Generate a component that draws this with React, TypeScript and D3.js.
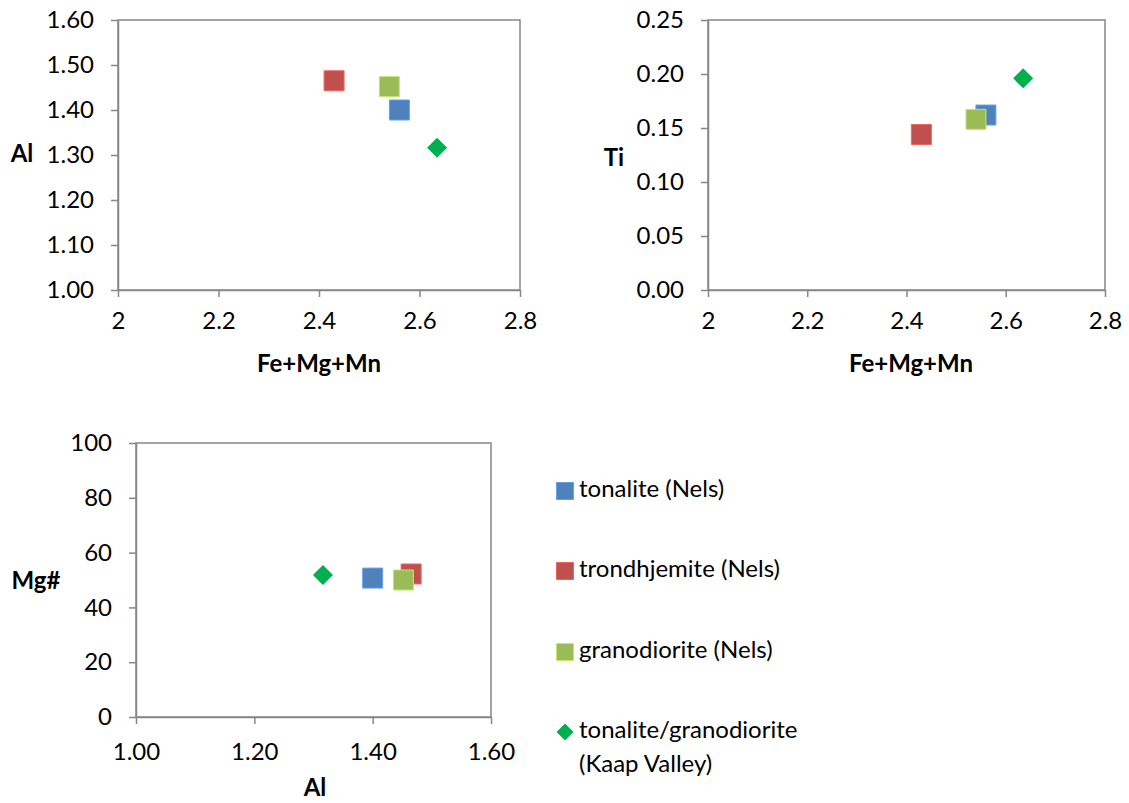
import React, { useEffect, useRef } from "react";
import * as d3 from "d3";

// Sample groups and their mineral chemistry
const groups = ["tonalite (Nels)", "trondhjemite (Nels)", "granodiorite (Nels)", "tonalite/granodiorite (Kaap Valley)"];
const groupColors = ["#4F81BD", "#C0504D", "#9BBB59", "#00B050"];
const groupShapes = ["square", "square", "square", "diamond"];
const feMgMn = [2.56, 2.43, 2.54, 2.635];
const al = [1.40, 1.465, 1.452, 1.316];
const ti = [0.162, 0.144, 0.158, 0.196];
const mgNumber = [50.7, 52.2, 50.0, 51.8];

const alTicks = [1.0, 1.1, 1.2, 1.3, 1.4, 1.5, 1.6];
const tiTicks = [0, 0.05, 0.1, 0.15, 0.2, 0.25];
const femTicks = [2, 2.2, 2.4, 2.6, 2.8];
const mgTicks = [0, 20, 40, 60, 80, 100];
const alXTicks = [1.0, 1.2, 1.4, 1.6];

const FONT = "Lato, 'Open Sans', sans-serif";
const FS = 24;
const AXIS = "#878787";

interface PanelSpec {
  left: number; right: number; top: number; bottom: number;
  xDomain: [number, number]; yDomain: [number, number];
  xTicks: number[]; yTicks: number[];
  xFmt: (v: number) => string; yFmt: (v: number) => string;
  xs: number[]; ys: number[];
  xTitle: string; yTitle: string;
  xTitlePos: [number, number]; yTitlePos: [number, number];
  xPad: number;
}

const panels: PanelSpec[] = [
  {
    left: 118, right: 520, top: 20, bottom: 290,
    xDomain: [2, 2.8], yDomain: [1.0, 1.6],
    xTicks: femTicks, yTicks: alTicks,
    xFmt: (v) => String(+v.toFixed(1)), yFmt: (v) => v.toFixed(2),
    xs: feMgMn, ys: al,
    xTitle: "Fe+Mg+Mn", yTitle: "Al",
    xTitlePos: [319, 366], yTitlePos: [22, 156], xPad: 15,
  },
  {
    left: 708, right: 1105, top: 20, bottom: 290,
    xDomain: [2, 2.8], yDomain: [0, 0.25],
    xTicks: femTicks, yTicks: tiTicks,
    xFmt: (v) => String(+v.toFixed(1)), yFmt: (v) => v.toFixed(2),
    xs: feMgMn, ys: ti,
    xTitle: "Fe+Mg+Mn", yTitle: "Ti",
    xTitlePos: [911, 366], yTitlePos: [614, 160], xPad: 15,
  },
  {
    left: 136, right: 491, top: 443, bottom: 717,
    xDomain: [1.0, 1.6], yDomain: [0, 100],
    xTicks: alXTicks, yTicks: mgTicks,
    xFmt: (v) => v.toFixed(2), yFmt: (v) => String(v),
    xs: al, ys: mgNumber,
    xTitle: "Al", yTitle: "Mg#",
    xTitlePos: [315, 790], yTitlePos: [36, 583], xPad: 19,
  },
];

function drawMarker(g: d3.Selection<SVGGElement, unknown, null, undefined>, i: number, x: number, y: number, scale = 1) {
  if (groupShapes[i] === "diamond") {
    g.append("path")
      .attr("d", d3.symbol().type(d3.symbolSquare).size(200 * scale * scale)()!)
      .attr("transform", `translate(${x},${y}) rotate(45)`)
      .attr("fill", groupColors[i]);
  } else {
    g.append("path")
      .attr("d", d3.symbol().type(d3.symbolSquare).size(400 * scale * scale)()!)
      .attr("transform", `translate(${x},${y})`)
      .attr("fill", groupColors[i])
      .attr("stroke", d3.color(groupColors[i])!.brighter(0.6).formatHex())
      .attr("stroke-width", 1);
  }
}

export default function App() {
  const ref = useRef<SVGSVGElement>(null);

  useEffect(() => {
    const svg = d3.select(ref.current!);
    svg.selectAll("*").remove();

    panels.forEach((p) => {
      const x = d3.scaleLinear().domain(p.xDomain).range([p.left, p.right]);
      const y = d3.scaleLinear().domain(p.yDomain).range([p.bottom, p.top]);
      const g = svg.append("g");

      // plot frame
      g.append("rect")
        .attr("x", p.left).attr("y", p.top)
        .attr("width", p.right - p.left).attr("height", p.bottom - p.top)
        .attr("fill", "none").attr("stroke", AXIS).attr("stroke-width", 1.5);

      const xAxis = d3.axisBottom(x).tickValues(p.xTicks).tickSize(7).tickSizeOuter(0).tickPadding(p.xPad).tickFormat((d) => p.xFmt(+d));
      const gx = g.append("g").attr("transform", `translate(0,${p.bottom})`).call(xAxis);
      const yAxis = d3.axisLeft(y).tickValues(p.yTicks).tickSize(7).tickSizeOuter(0).tickPadding(17).tickFormat((d) => p.yFmt(+d));
      const gy = g.append("g").attr("transform", `translate(${p.left},0)`).call(yAxis);
      [gx, gy].forEach((a) => {
        a.select(".domain").attr("stroke", AXIS).attr("stroke-width", 1.5);
        a.selectAll(".tick line").attr("stroke", AXIS).attr("stroke-width", 1.5);
        a.selectAll(".tick text").attr("font-family", FONT).attr("font-size", FS).attr("fill", "#000");
      });

      g.append("text")
        .attr("x", p.xTitlePos[0]).attr("y", p.xTitlePos[1])
        .attr("text-anchor", "middle").attr("dominant-baseline", "middle")
        .attr("font-family", FONT).attr("font-size", FS).attr("font-weight", "bold")
        .text(p.xTitle);
      g.append("text")
        .attr("x", p.yTitlePos[0]).attr("y", p.yTitlePos[1])
        .attr("text-anchor", "middle").attr("dominant-baseline", "middle")
        .attr("font-family", FONT).attr("font-size", FS).attr("font-weight", "bold")
        .text(p.yTitle);

      const marks = g.append("g");
      groups.forEach((_, i) => drawMarker(marks, i, x(p.xs[i]), y(p.ys[i])));
    });

    // legend
    const legend = svg.append("g");
    const legendY = [491, 571, 652, 732];
    groups.forEach((name, i) => {
      drawMarker(legend, i, 565, legendY[i], 0.85);
      const t = legend.append("text")
        .attr("x", 579).attr("y", legendY[i])
        .attr("dominant-baseline", "middle")
        .attr("font-family", FONT).attr("font-size", FS).attr("fill", "#000");
      if (i === 3) {
        t.append("tspan").attr("x", 579).text("tonalite/granodiorite");
        t.append("tspan").attr("x", 579).attr("dy", 34).text("(Kaap Valley)");
      } else {
        t.text(name);
      }
    });
  }, []);

  return (
    <svg ref={ref} width={1129} height={803} style={{ position: "absolute", left: 0, top: 0, background: "#fff" }} />
  );
}
